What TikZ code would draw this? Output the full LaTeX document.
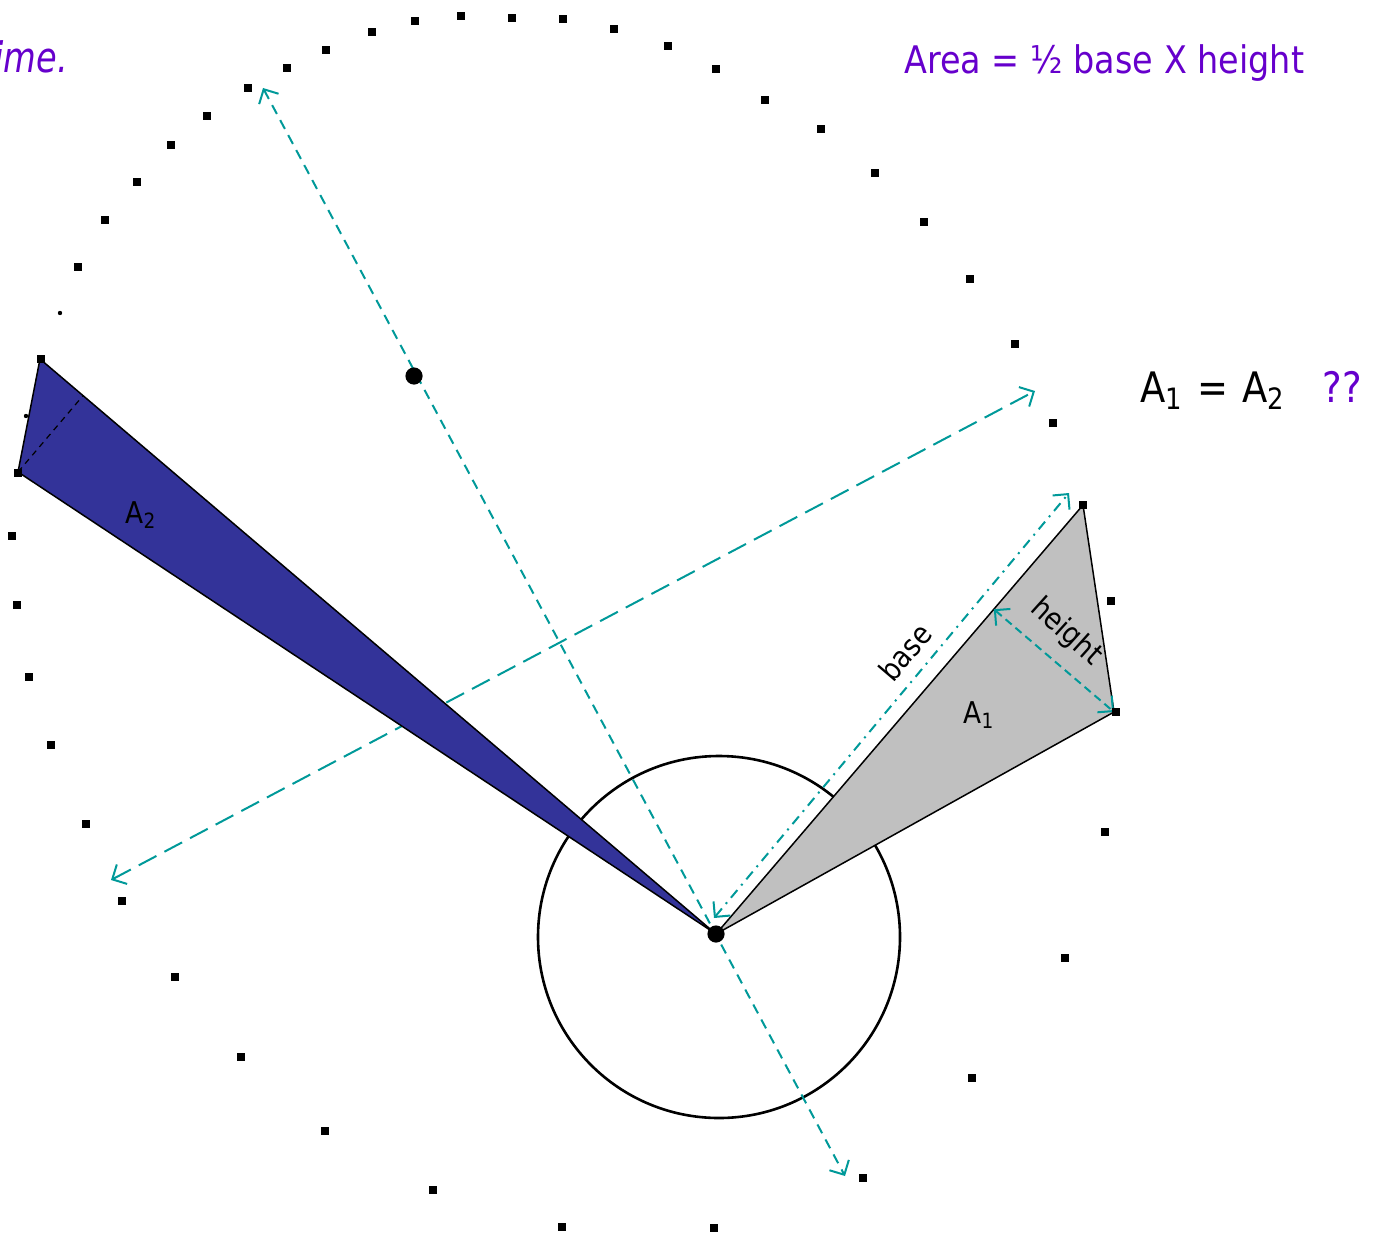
\documentclass[tikz,border=0pt]{standalone}
\usepackage{fontspec}
\setmainfont[FakeStretch=0.88]{DejaVu Sans}
\newfontfamily\imefont[FakeStretch=0.8]{DejaVu Sans Oblique}
\usetikzlibrary{arrows.meta,calc}
\definecolor{axisc}{RGB}{0,153,153}
\definecolor{purp}{RGB}{102,0,204}
\definecolor{bluefill}{RGB}{51,51,153}
\definecolor{greyfill}{RGB}{192,192,192}
\begin{document}
\begin{tikzpicture}[x=0.5pt,y=-0.5pt,
  axisline/.style={draw=axisc, line width=1pt, {Straight Barb[length=5.5pt,width=11pt]}-{Straight Barb[length=5.5pt,width=11pt]}},
  edge/.style={draw=black, line width=0.75pt, line join=round},
  lbl/.style={font=\fontsize{15pt}{18pt}\selectfont, inner sep=0pt},
  bigtxt/.style={font=\fontsize{21pt}{25pt}\selectfont, inner sep=0pt},
  note/.style={font=\fontsize{19pt}{22pt}\selectfont, text=purp, inner sep=0pt}]
\useasboundingbox (0,0) rectangle (1375,1236);
% key points
\coordinate (S) at (716,934);
\coordinate (C) at (719,937);
\coordinate (F) at (414,376);
\coordinate (P1) at (1083,505);
\coordinate (P2) at (1114,712);
\coordinate (Q1) at (40,359);
\coordinate (Q2) at (18,472);
\coordinate (MA1) at (263,88);
\coordinate (MA2) at (845,1176);
\coordinate (MB1) at (111,880);
\coordinate (MB2) at (1035,391);
\coordinate (BA1) at (714,918);
\coordinate (BA2) at (1069,493);
\coordinate (H) at ($(S)!(P2)!(P1)$);
\coordinate (H2) at ($(S)!(Q2)!(Q1)$);
% circle
\draw[line width=1.3pt] (C) circle (90.5pt);
% minor axis
\draw[axisline, dash pattern=on 10pt off 4.5pt] (MB1) -- (MB2);
% swept areas
\draw[edge, fill=bluefill] (S) -- (Q1) -- (Q2) -- cycle;
\draw[black, line width=0.6pt, dash pattern=on 3pt off 2.5pt] (Q2) -- (H2);
\draw[edge, fill=greyfill] (S) -- (P1) -- (P2) -- cycle;
% major axis
\draw[axisline, dash pattern=on 5pt off 3.5pt] (MA1) -- (MA2);
% base and height
\draw[axisline, dash pattern=on 5pt off 3pt on 1pt off 3pt] (BA1) -- (BA2);
\draw[axisline, dash pattern=on 4pt off 2.5pt] (H) -- (P2);
% orbit dots
\foreach \x/\y in {863/1178, 972/1078, 1065/958, 1105/832, 1116/712, 1111/601,
  1083/505, 1053/423, 1015/344, 970/279, 924/222, 875/173, 821/129, 765/100,
  716/69, 668/46, 614/29, 563/19, 512/18, 461/16, 415/21, 372/32, 326/50,
  287/68, 248/88, 207/116, 171/145, 137/182, 105/220, 78/267, 41/359,
  18/473, 12/536, 17/605, 29/677, 51/745, 86/824, 122/901, 175/977,
  241/1057, 325/1131, 433/1190, 562/1227, 714/1228}
  \fill ($(\x,\y)+(-1.9pt,-1.9pt)$) rectangle ++(3.8pt,3.8pt);
\foreach \x/\y in {60/313, 26/416}
  \fill (\x,\y) circle (1.1pt);
% foci
\fill (F) circle (4.3pt);
\fill (S) circle (4.3pt);
% labels
\node[lbl] (a1) at (979,715) {A\textsubscript{1}};
\node[lbl] (a2) at (141,515) {A\textsubscript{2}};
\node[lbl, rotate=49.5] (base) at (905,652) {base};
\node[lbl, rotate=-42] (height) at (1066,632) {height};
\node[note, anchor=base west] (area) at (904,74) {Area = ½ base X height};
\node[bigtxt, anchor=base west] (eq) at (1140,402) {A\textsubscript{1}\,\,=\,\,A\textsubscript{2}};
\node[bigtxt, anchor=base west, text=purp] (qq) at (1322,402) {??};
\node[font=\fontsize{21pt}{25pt}\selectfont\imefont, text=purp, inner sep=0pt, anchor=base west] (ime) at (-6,73) {ime.};
\end{tikzpicture}
\end{document}
